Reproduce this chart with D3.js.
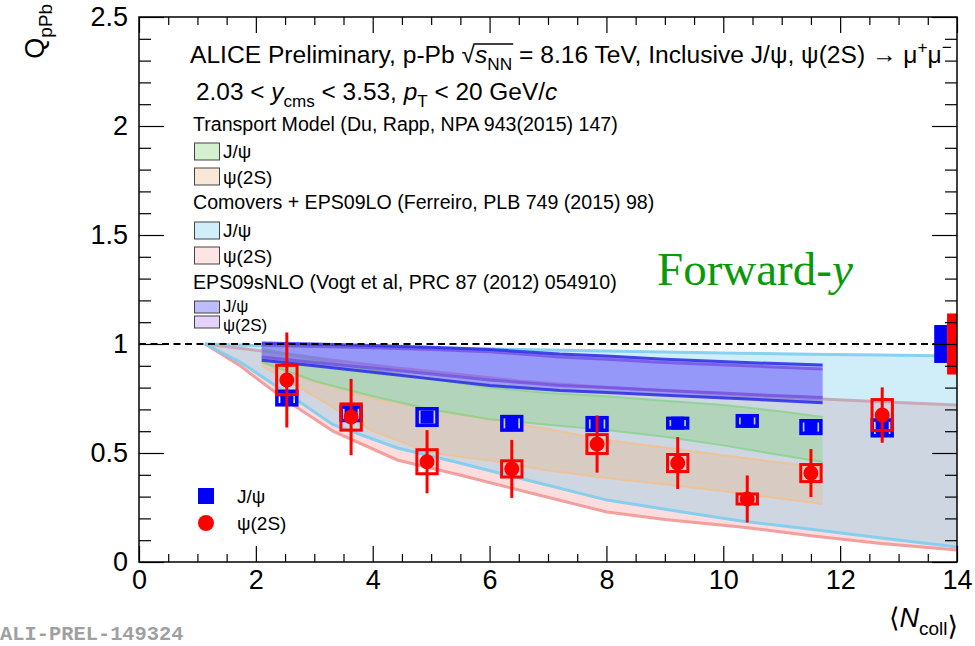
<!DOCTYPE html>
<html>
<head>
<meta charset="utf-8">
<script src="https://cdn.jsdelivr.net/npm/d3@7/dist/d3.min.js"></script>
<style>
body { margin: 0; background: #fff; }
svg text { font-family: "Liberation Sans", Arial, Helvetica, sans-serif; fill: #000; }
</style>
</head>
<body>
<svg id="chart" width="975" height="646"></svg>
<script>
/* Datos: puntos medidos */
const ncoll = [2.53, 3.63, 4.93, 6.38, 7.84, 9.22, 10.41, 11.5, 12.72];
const jpsiQ = [0.752, 0.68, 0.665, 0.636, 0.633, 0.637, 0.647, 0.619, 0.615];
const jpsiSys = [0.039, 0.039, 0.046, 0.039, 0.037, 0.03, 0.032, 0.037, 0.044];
const psiQ = [0.835, 0.665, 0.46, 0.427, 0.541, 0.454, 0.289, 0.408, 0.674];
const psiStat = [0.218, 0.175, 0.145, 0.133, 0.131, 0.119, 0.108, 0.11, 0.127];
const psiSys = [0.074, 0.067, 0.062, 0.044, 0.05, 0.046, 0.03, 0.046, 0.078];
const globalJpsi = 0.087;
const globalPsi = 0.14;

/* Comovers + EPS09LO */
const comoversX = [1.13, 1.73, 2.5, 3.32, 4.42, 5.49, 6.5, 8.01, 9, 10.3, 11.5, 12.7, 14];
const comoversJpsiHi = [1.0, 0.995, 0.99, 0.987, 0.983, 0.98, 0.975, 0.968, 0.963, 0.958, 0.953, 0.949, 0.945];
const comoversJpsiLo = [1.0, 0.917, 0.78, 0.63, 0.523, 0.454, 0.385, 0.284, 0.242, 0.188, 0.15, 0.11, 0.069];
const comoversPsiHi = [1.0, 0.98, 0.955, 0.925, 0.89, 0.86, 0.83, 0.80, 0.785, 0.765, 0.75, 0.735, 0.72];
const comoversPsiLo = [1.0, 0.9, 0.745, 0.6, 0.468, 0.399, 0.33, 0.229, 0.195, 0.161, 0.12, 0.085, 0.055];

/* Transport model (Du, Rapp) */
const transportX = [2.1, 3, 4, 5, 6, 7, 8, 9, 10, 11, 11.7];
const transportJpsiHi = [0.98, 0.93, 0.88, 0.84, 0.80, 0.775, 0.76, 0.74, 0.72, 0.69, 0.665];
const transportJpsiLo = [0.917, 0.83, 0.76, 0.70, 0.655, 0.63, 0.606, 0.575, 0.535, 0.49, 0.459];
const transportPsiHi = [0.92, 0.83, 0.75, 0.70, 0.655, 0.61, 0.56, 0.525, 0.49, 0.455, 0.436];
const transportPsiLo = [0.90, 0.76, 0.60, 0.50, 0.465, 0.42, 0.385, 0.355, 0.325, 0.29, 0.266];

/* EPS09sNLO (Vogt) */
const vogtX = [2.1, 3, 4, 5, 6, 7.2, 8, 9, 10.6, 11.7];
const vogtJpsiHi = [1.005, 1.0, 0.993, 0.985, 0.975, 0.954, 0.945, 0.93, 0.913, 0.904];
const vogtJpsiLo = [0.925, 0.9, 0.87, 0.84, 0.81, 0.787, 0.778, 0.765, 0.745, 0.73];
const vogtPsiHi = [0.995, 0.99, 0.983, 0.975, 0.965, 0.94, 0.93, 0.915, 0.898, 0.885];
const vogtPsiLo = [0.94, 0.915, 0.89, 0.862, 0.835, 0.81, 0.8, 0.787, 0.767, 0.755];

const xMajor = [0, 2, 4, 6, 8, 10, 12, 14];
const yMajor = [0, 0.5, 1, 1.5, 2, 2.5];

/* Layout */
const W = 975, H = 646;
const M = { top: 17, right: 18, bottom: 84, left: 139 };
const svg = d3.select("#chart");

const x = d3.scaleLinear().domain([0, 14]).range([M.left, W - M.right]);
const y = d3.scaleLinear().domain([0, 2.5]).range([H - M.bottom, M.top]);

const plot = svg.append("g");
plot.append("clipPath").attr("id", "clip").append("rect")
	.attr("x", M.left).attr("y", M.top)
	.attr("width", W - M.left - M.right).attr("height", H - M.top - M.bottom);
const g = plot.append("g").attr("clip-path", "url(#clip)");

function band(xs, hi, lo, fill, op, edge, ew, eop) {
	const rows = xs.map((v, i) => ({ x: v, hi: hi[i], lo: lo[i] }));
	g.append("path").datum(rows)
		.attr("d", d3.area().x(d => x(d.x)).y0(d => y(d.lo)).y1(d => y(d.hi)))
		.attr("fill", fill).attr("fill-opacity", op);
	["hi", "lo"].forEach(k => {
		g.append("path").datum(rows)
			.attr("d", d3.line().x(d => x(d.x)).y(d => y(d[k])))
			.attr("fill", "none").attr("stroke", edge)
			.attr("stroke-width", ew).attr("stroke-opacity", eop);
	});
}

const C = {
	comPsi: "#f8b4b4", comJpsi: "#64c8f0",
	trPsi: "#f0b478", trJpsi: "#78d26e",
	voPsi: "#aa6ef0", voJpsi: "#5050ff"
};
const OP = { comPsi: 0.45, comJpsi: 0.3, trPsi: 0.3, trJpsi: 0.33, voPsi: 0.3, voJpsi: 0.4 };

band(comoversX, comoversPsiHi, comoversPsiLo, C.comPsi, OP.comPsi, "#f29696", 3, 0.9);
band(comoversX, comoversJpsiHi, comoversJpsiLo, C.comJpsi, OP.comJpsi, "#7ccdef", 3, 0.9);
band(transportX, transportPsiHi, transportPsiLo, C.trPsi, OP.trPsi, "#f2c08c", 2, 0.8);
band(transportX, transportJpsiHi, transportJpsiLo, C.trJpsi, OP.trJpsi, "#86d38a", 2, 0.8);
band(vogtX, vogtPsiHi, vogtPsiLo, C.voPsi, OP.voPsi, "#8e4fd0", 3, 0.8);
band(vogtX, vogtJpsiHi, vogtJpsiLo, C.voJpsi, OP.voJpsi, "#2a2ae6", 3, 0.85);

// linea de referencia en 1
g.append("line")
	.attr("x1", x(0)).attr("x2", x(14)).attr("y1", y(1)).attr("y2", y(1))
	.attr("stroke", "#000").attr("stroke-width", 2).attr("stroke-dasharray", "7,4.5");

// incertidumbres globales
g.append("rect").attr("x", x(13.61)).attr("width", x(13.83) - x(13.61))
	.attr("y", y(1 + globalJpsi)).attr("height", y(1 - globalJpsi) - y(1 + globalJpsi))
	.attr("fill", "#0000ff");
g.append("rect").attr("x", x(13.83)).attr("width", x(14) - x(13.83))
	.attr("y", y(1 + globalPsi)).attr("height", y(1 - globalPsi) - y(1 + globalPsi))
	.attr("fill", "#ff0000");

/* Puntos J/psi */
const boxHalf = 0.2;
const jpsi = ncoll.map((v, i) => ({ x: v, q: jpsiQ[i], s: jpsiSys[i] }));
const gJ = g.append("g");
gJ.selectAll("rect.sys").data(jpsi).join("rect").attr("class", "sys")
	.attr("x", d => x(d.x - boxHalf) + 1.75).attr("width", d => x(d.x + boxHalf) - x(d.x - boxHalf) - 3.5)
	.attr("y", d => y(d.q + d.s) + 1.75).attr("height", d => y(d.q - d.s) - y(d.q + d.s) - 3.5)
	.attr("fill", "none").attr("stroke", "#0000ff").attr("stroke-width", 3.5);
gJ.selectAll("rect.mk").data(jpsi).join("rect").attr("class", "mk")
	.attr("x", d => x(d.x) - 6.5).attr("y", d => y(d.q) - 6.5)
	.attr("width", 13).attr("height", 13).attr("fill", "#0000ff");

/* Puntos psi(2S) */
const psi = ncoll.map((v, i) => ({ x: v, q: psiQ[i], e: psiStat[i], s: psiSys[i] }));
const gP = g.append("g");
gP.selectAll("line").data(psi).join("line")
	.attr("x1", d => x(d.x)).attr("x2", d => x(d.x))
	.attr("y1", d => y(d.q + d.e)).attr("y2", d => y(d.q - d.e))
	.attr("stroke", "#ff0000").attr("stroke-width", 3);
gP.selectAll("rect").data(psi).join("rect")
	.attr("x", d => x(d.x - boxHalf) + 1.5).attr("width", d => x(d.x + boxHalf) - x(d.x - boxHalf) - 3)
	.attr("y", d => y(d.q + d.s) + 1.5).attr("height", d => y(d.q - d.s) - y(d.q + d.s) - 3)
	.attr("fill", "none").attr("stroke", "#ff0000").attr("stroke-width", 3);
gP.selectAll("circle").data(psi).join("circle")
	.attr("cx", d => x(d.x)).attr("cy", d => y(d.q)).attr("r", 7.5).attr("fill", "#ff0000");

/* Ejes */
const axG = svg.append("g");
const minorX = d3.range(0, 14.01, 0.5).filter(v => v % 2 !== 0);
const minorY = d3.range(0, 2.501, 0.1).map(v => +v.toFixed(1)).filter(v => Math.round(v * 10) % 5 !== 0);
const fmtY = d3.format("~g");

function styleAxis(sel) {
	sel.select(".domain").remove();
	sel.selectAll("line").attr("stroke", "#000").attr("stroke-width", 1.2);
	sel.selectAll("text").attr("font-size", 27).attr("font-family", "Liberation Sans, Arial, sans-serif");
}

axG.append("g").attr("transform", `translate(0,${y(0)})`)
	.call(d3.axisBottom(x).tickValues(xMajor).tickSize(-16).tickPadding(8).tickFormat(d3.format("d"))).call(styleAxis);
axG.append("g").attr("transform", `translate(0,${y(0)})`)
	.call(d3.axisBottom(x).tickValues(minorX).tickSize(-8).tickFormat("")).call(styleAxis);
axG.append("g").attr("transform", `translate(0,${y(2.5)})`)
	.call(d3.axisTop(x).tickValues(xMajor).tickSize(-16).tickFormat("")).call(styleAxis);
axG.append("g").attr("transform", `translate(0,${y(2.5)})`)
	.call(d3.axisTop(x).tickValues(minorX).tickSize(-8).tickFormat("")).call(styleAxis);
axG.append("g").attr("transform", `translate(${x(0)},0)`)
	.call(d3.axisLeft(y).tickValues(yMajor).tickSize(-25).tickPadding(11).tickFormat(fmtY)).call(styleAxis);
axG.append("g").attr("transform", `translate(${x(0)},0)`)
	.call(d3.axisLeft(y).tickValues(minorY).tickSize(-12).tickFormat("")).call(styleAxis);
axG.append("g").attr("transform", `translate(${x(14)},0)`)
	.call(d3.axisRight(y).tickValues(yMajor).tickSize(-25).tickFormat("")).call(styleAxis);
axG.append("g").attr("transform", `translate(${x(14)},0)`)
	.call(d3.axisRight(y).tickValues(minorY).tickSize(-12).tickFormat("")).call(styleAxis);

svg.append("rect").attr("x", x(0)).attr("y", y(2.5))
	.attr("width", x(14) - x(0)).attr("height", y(0) - y(2.5))
	.attr("fill", "none").attr("stroke", "#000").attr("stroke-width", 1.5);

/* Texto enriquecido: sub/super indices */
function rich(sel, parts, fs) {
	let prev = 0;
	parts.forEach(p => {
		const ts = sel.append("tspan").text(p.t);
		let size = fs, shift = 0;
		if (p.sub) { size = fs * 0.7; shift = fs * 0.3; }
		if (p.sup) { size = fs * 0.7; shift = -fs * 0.4; }
		ts.attr("font-size", size).attr("dy", shift - prev);
		if (p.it) ts.attr("font-style", "italic");
		if (p.cls) ts.attr("class", p.cls);
		prev = shift;
	});
	return sel;
}

// titulo
const t1 = svg.append("text").attr("x", 190).attr("y", 63).attr("font-size", 24.6);
rich(t1, [
	{ t: "ALICE Preliminary, p-Pb " }, { t: "\u221A", cls: "sq" }, { t: "s", it: true, cls: "sq2" },
	{ t: "NN", sub: true, cls: "nn" }, { t: " = 8.16 TeV, Inclusive J/\u03C8, \u03C8(2S) \u2192 \u03BC" },
	{ t: "+", sup: true }, { t: "\u03BC" }, { t: "\u2212", sup: true }
], 24.6);
(function () {
	const sq = t1.select(".sq").node().getBBox();
	const nn = t1.select(".nn").node().getBBox();
	svg.append("line").attr("x1", sq.x + sq.width - 1).attr("x2", nn.x + nn.width + 1)
		.attr("y1", sq.y + 3).attr("y2", sq.y + 3).attr("stroke", "#000").attr("stroke-width", 1.3);
})();

const t2 = svg.append("text").attr("x", 196).attr("y", 100).attr("font-size", 24.4);
rich(t2, [
	{ t: "2.03 < " }, { t: "y", it: true }, { t: "cms", sub: true }, { t: " < 3.53, " },
	{ t: "p", it: true }, { t: "T", sub: true }, { t: " < 20 GeV/" }, { t: "c", it: true }
], 24.4);

/* Leyenda de modelos */
const legendGroups = [
	{ title: "Transport Model (Du, Rapp, NPA 943(2015) 147)", ty: 131,
		items: [{ lbl: "J/\u03C8", c: C.trJpsi, o: OP.trJpsi, y0: 143, h: 17, ty: 158, fs: 19 },
			{ lbl: "\u03C8(2S)", c: C.trPsi, o: OP.trPsi, y0: 168, h: 17, ty: 184, fs: 19 }] },
	{ title: "Comovers + EPS09LO (Ferreiro, PLB 749 (2015) 98)", ty: 209,
		items: [{ lbl: "J/\u03C8", c: C.comJpsi, o: OP.comJpsi, y0: 222, h: 17, ty: 237, fs: 19 },
			{ lbl: "\u03C8(2S)", c: C.comPsi, o: 0.35, y0: 247, h: 17, ty: 263, fs: 19 }] },
	{ title: "EPS09sNLO (Vogt et al, PRC 87 (2012) 054910)", ty: 289,
		items: [{ lbl: "J/\u03C8", c: C.voJpsi, o: 0.38, y0: 301, h: 12, ty: 311.5, fs: 17 },
			{ lbl: "\u03C8(2S)", c: C.voPsi, o: 0.3, y0: 316, h: 12, ty: 331, fs: 17 }] }
];
const leg = svg.append("g");
legendGroups.forEach(gr => {
	leg.append("text").attr("x", 193).attr("y", gr.ty).attr("font-size", 19.6).text(gr.title);
	gr.items.forEach(it => {
		leg.append("rect").attr("x", 194.5).attr("y", it.y0).attr("width", 25).attr("height", it.h)
			.attr("fill", it.c).attr("fill-opacity", it.o).attr("stroke", "#444").attr("stroke-width", 1);
		leg.append("text").attr("x", 223).attr("y", it.ty).attr("font-size", it.fs).text(it.lbl);
	});
});

/* Leyenda de datos */
svg.append("rect").attr("x", 198).attr("y", 488).attr("width", 16).attr("height", 16).attr("fill", "#0000ff");
svg.append("circle").attr("cx", 206).attr("cy", 523).attr("r", 8).attr("fill", "#ff0000");
svg.append("text").attr("x", 237).attr("y", 503).attr("font-size", 19).text("J/\u03C8");
svg.append("text").attr("x", 237).attr("y", 530).attr("font-size", 19).text("\u03C8(2S)");

/* Forward-y */
const fw = svg.append("text").attr("x", 657).attr("y", 285).attr("font-size", 47)
	.style("font-family", "Liberation Serif, Times New Roman, serif");
fw.append("tspan").attr("fill", "#0a990a").text("Forward-");
fw.append("tspan").attr("fill", "#0a990a").attr("font-style", "italic").text("y");

/* Titulos de ejes */
const yt = svg.append("text").attr("transform", "translate(44,4) rotate(-90)")
	.attr("text-anchor", "end").attr("font-size", 27);
rich(yt, [{ t: "Q" }, { t: "pPb", sub: true }], 27);

const xt = svg.append("text").attr("x", 958).attr("y", 627).attr("text-anchor", "end").attr("font-size", 27);
xt.append("tspan").style("font-family", "DejaVu Sans, sans-serif").attr("font-weight", 200).text("\u27E8");
rich(xt, [{ t: "N", it: true }, { t: "coll", sub: true }, { t: "" }], 27);
xt.append("tspan").style("font-family", "DejaVu Sans, sans-serif").text("\u27E9");

/* Etiqueta */
svg.append("text").attr("x", 0).attr("y", 640).attr("font-size", 20.4)
	.style("font-family", "Liberation Mono, Courier New, monospace").attr("font-weight", "bold")
	.style("fill", "#a0a0a0").text("ALI-PREL-149324");
</script>
</body>
</html>
